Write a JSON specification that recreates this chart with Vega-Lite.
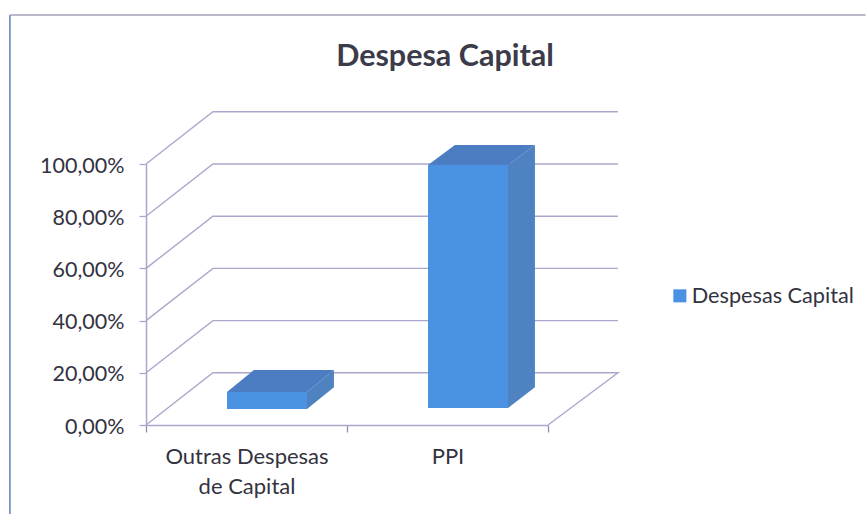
{
"$schema":"https://vega.github.io/schema/vega-lite/v6.json",
"width":402,"height":261,
"autosize":"none",
"padding":{"left":146,"top":164,"right":318,"bottom":89},
"background":"#ffffff",
"config":{"view":{"stroke":null},"font":"Lato"},
"title":{"text":"Despesa Capital","font":"Lato","fontSize":30.5,"fontWeight":"bold","color":"#3b3b4a","anchor":"middle","frame":"group","dx":98,"offset":-61},
"resolve":{"axis":{"x":"independent","y":"independent"}},
"layer":[
{"data":{"values":[
{"l":"esq","x":-0.677,"y":-34.1},{"l":"esq","x":-0.677,"y":157.1}]},
"mark":{"type":"line","stroke":"#5f7fbc","strokeWidth":1.5},
"encoding":{"x":{"field":"x","type":"quantitative","scale":{"domain":[0,2],"nice":false},"axis":{"orient":"bottom","values":[0,1,2],"labels":false,"title":null,"grid":false,"domainColor":"#a9a8cc","domainWidth":1.5,"tickColor":"#8f8fb5","tickSize":7,"tickWidth":1.3}},
"y":{"field":"y","type":"quantitative","scale":{"domain":[0,100],"nice":false},"axis":{"orient":"left","values":[0,20,40,60,80,100],"labelExpr":"replace(format(datum.value,'.2f'),'.',',')+'%'","title":null,"grid":false,"domainColor":"#a9a8cc","domainWidth":1.5,"tickColor":"#a9a8cc","tickSize":7,"tickWidth":1.3,"labelFont":"Lato","labelFontSize":21.5,"labelColor":"#33333f","labelPadding":15,"labelOffset":2}},"detail":{"field":"l"}}},
{"data":{"values":[
{"l":"topo","x":-0.677,"y":157.1},{"l":"topo","x":3.58,"y":157.1}]},
"mark":{"type":"line","stroke":"#a3a3b8","strokeWidth":1.5},
"encoding":{"x":{"field":"x","type":"quantitative","scale":{"domain":[0,2],"nice":false},"axis":{"orient":"bottom","values":[0.5,1.5],"ticks":false,"domain":false,"grid":false,"title":null,"labelExpr":"datum.value<1?['Outras Despesas','de Capital']:'PPI'","labelFont":"Lato","labelFontSize":22,"labelLineHeight":30,"labelColor":"#33333f","labelPadding":21,"labelOverlap":false,"labelBound":false,"labelFlush":false}},
"y":{"field":"y","type":"quantitative","scale":{"domain":[0,100],"nice":false},"axis":null},"detail":{"field":"l"}}},
{"data":{"values":[
{"nivel":0,"x":0,"y":0},{"nivel":0,"x":0.333,"y":20},{"nivel":0,"x":2.348,"y":20},{"nivel":0,"x":2,"y":0},
{"nivel":20,"x":0,"y":20},{"nivel":20,"x":0.333,"y":40},{"nivel":20,"x":2.348,"y":40},
{"nivel":40,"x":0,"y":40},{"nivel":40,"x":0.333,"y":60},{"nivel":40,"x":2.348,"y":60},
{"nivel":60,"x":0,"y":60},{"nivel":60,"x":0.333,"y":80},{"nivel":60,"x":2.348,"y":80},
{"nivel":80,"x":0,"y":80},{"nivel":80,"x":0.333,"y":100},{"nivel":80,"x":2.348,"y":100},
{"nivel":100,"x":0,"y":100},{"nivel":100,"x":0.333,"y":120},{"nivel":100,"x":2.348,"y":120}]},
"mark":{"type":"line","stroke":"#a9a8cc","strokeWidth":1.4,"order":null},
"encoding":{"x":{"field":"x","type":"quantitative","scale":{"domain":[0,2],"nice":false},"axis":null},
"y":{"field":"y","type":"quantitative","scale":{"domain":[0,100],"nice":false},"axis":null},"detail":{"field":"nivel"}}},
{"data":{"values":[
{"barra":"Outras","x":0.801,"y":12.6,"y2":6.1},{"barra":"Outras","x":0.935,"y":21.1,"y2":14.5},
{"barra":"PPI","x":1.801,"y":99.6,"y2":6.5},{"barra":"PPI","x":1.935,"y":107.3,"y2":14.5}]},
"mark":{"type":"area","fill":"#4f82c0"},
"encoding":{"x":{"field":"x","type":"quantitative","scale":{"domain":[0,2],"nice":false},"axis":null},
"y":{"field":"y","type":"quantitative","scale":{"domain":[0,100],"nice":false},"axis":null},"y2":{"field":"y2"},"detail":{"field":"barra"}}},
{"data":{"values":[
{"barra":"Outras","y":12.6,"x":0.403,"x2":0.801},{"barra":"Outras","y":21.1,"x":0.537,"x2":0.935},
{"barra":"PPI","y":99.6,"x":1.403,"x2":1.801},{"barra":"PPI","y":107.3,"x":1.537,"x2":1.935}]},
"mark":{"type":"area","orient":"horizontal","fill":"#4c7cc2"},
"encoding":{"x":{"field":"x","type":"quantitative","scale":{"domain":[0,2],"nice":false},"axis":null},"x2":{"field":"x2"},
"y":{"field":"y","type":"quantitative","scale":{"domain":[0,100],"nice":false},"axis":null},"detail":{"field":"barra"}}},
{"data":{"values":[
{"categoria":"Outras Despesas de Capital","serie":"Despesas Capital","x":0.403,"x2":0.801,"base":6.1,"topo":12.6},
{"categoria":"PPI","serie":"Despesas Capital","x":1.403,"x2":1.801,"base":6.5,"topo":99.6}]},
"mark":{"type":"rect"},
"encoding":{"x":{"field":"x","type":"quantitative","scale":{"domain":[0,2],"nice":false},"axis":null},"x2":{"field":"x2"},
"y":{"field":"topo","type":"quantitative","scale":{"domain":[0,100],"nice":false},"axis":null},"y2":{"field":"base"},
"color":{"field":"serie","type":"nominal","scale":{"range":["#4b92e2"]},"legend":{"orient":"none","legendX":523,"legendY":121,"title":null,"symbolType":"square","symbolSize":170,"symbolStrokeWidth":0,"labelFont":"Lato","labelFontSize":21.7,"labelColor":"#33333f","labelOffset":1,"labelLimit":300,"padding":0}}}}
]
}
